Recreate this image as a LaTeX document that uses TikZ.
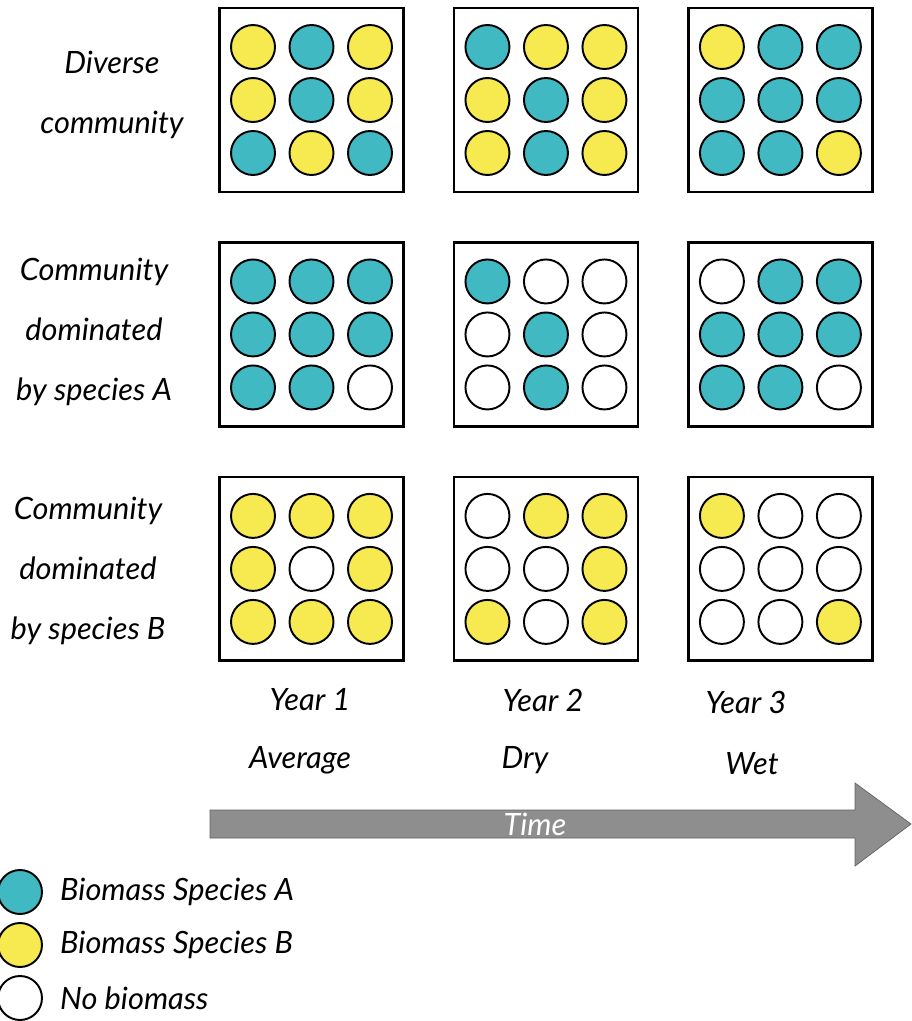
\documentclass[tikz,border=0pt]{standalone}
\usepackage{fontspec}
\setmainfont{Lato}
\usetikzlibrary{positioning}
\definecolor{spA}{HTML}{41B9C3}
\definecolor{spB}{HTML}{F6EA50}
\definecolor{spN}{HTML}{FFFFFF}
\definecolor{timegray}{HTML}{8E8E8E}

\begin{document}
\begin{tikzpicture}[x=0.02cm,y=-0.02cm,node distance=4.69cm,on grid,
    panel/.style={draw,line width=1.6pt,minimum size=3.68cm,inner sep=0pt},
    patch/.style={circle,draw,line width=1.1pt,minimum size=0.88cm,inner sep=0pt},
    lbl/.style={font=\fontsize{17.5}{34}\selectfont\itshape,align=center}]
  \useasboundingbox (0,0) rectangle (912,1021);

  % plots: rows are communities, columns are years
  \node[panel] (d1) at (311.5,100) {};
  \node[panel] (d2) [right=of d1] {};
  \node[panel] (d3) [right=of d2] {};
  \node[panel] (a1) [below=of d1] {};
  \node[panel] (a2) [right=of a1] {};
  \node[panel] (a3) [right=of a2] {};
  \node[panel] (b1) [below=of a1] {};
  \node[panel] (b2) [right=of b1] {};
  \node[panel] (b3) [right=of b2] {};

  \foreach \p/\cells in {d1/{B,A,B,B,A,B,A,B,A}, d2/{A,B,B,B,A,B,B,A,B}, d3/{B,A,A,A,A,A,A,A,B},
                         a1/{A,A,A,A,A,A,A,A,N}, a2/{A,N,N,N,A,N,N,A,N}, a3/{N,A,A,A,A,A,A,A,N},
                         b1/{B,B,B,B,N,B,B,B,B}, b2/{N,B,B,N,N,B,B,N,B}, b3/{B,N,N,N,N,N,N,N,B}}
    \foreach \c [count=\i from 0] in \cells
      \node[patch,fill=sp\c] (\p-\i) at ([shift={({(mod(\i,3)-1)*58.5},{(int(\i/3)-1)*53})}]\p.center) {};

  \node[lbl] (rowd) at (112,95) {Diverse\\community};
  \node[lbl] (rowa) at (94,332) {Community\\dominated\\by species A};
  \node[lbl] (rowb) at (88,571) {Community\\dominated\\by species B};

  \node[lbl] (year1) at (310,700) {Year 1};
  \node[lbl] (year2) at (543,700) {Year 2};
  \node[lbl] (year3) at (746,702) {Year 3};
  \node[lbl] (avg) at (300,760) {Average};
  \node[lbl] (dry) at (525,760) {Dry};
  \node[lbl] (wet) at (752,764) {Wet};

  \draw[fill=timegray,draw=timegray!70!black]
    (210,810) -- (855,810) -- (855,783) -- (911,824) -- (855,866) -- (855,838) -- (210,838) -- cycle;
  \node[lbl,white] (time) at (535,824) {Time};

  % legend
  \node[patch,fill=spA] (legA) at (20,892) {};
  \node[patch,fill=spB] (legB) at (20,945) {};
  \node[patch,fill=spN] (legN) at (20,998) {};
  \node[lbl,anchor=west] (legAtext) at (54,892) {Biomass Species A};
  \node[lbl,anchor=west] (legBtext) at (54,945) {Biomass Species B};
  \node[lbl,anchor=west] (legNtext) at (54,998) {No biomass};
\end{tikzpicture}
\end{document}
